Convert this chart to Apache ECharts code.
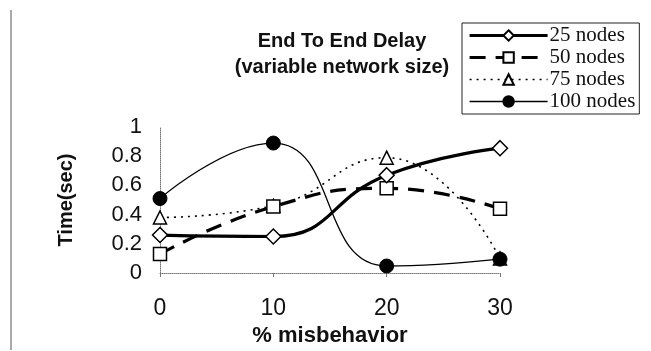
<!DOCTYPE html>
<html>
<head>
<meta charset="utf-8">
<script src="https://cdn.jsdelivr.net/npm/echarts@6/dist/echarts.min.js"></script>
<style>html,body{margin:0;padding:0;background:#fff}#c{width:651px;height:351px}</style>
</head>
<body>
<div id="c"></div>
<script>
var xValues = [0, 10, 20, 30];
var seriesNames = ['25 nodes', '50 nodes', '75 nodes', '100 nodes'];
var nodes25 = [0.26, 0.25, 0.67, 0.855];
var nodes50 = [0.13, 0.455, 0.58, 0.44];
var nodes75 = [0.38, 0.46, 0.79, 0.10];
var nodes100 = [0.51, 0.89, 0.048, 0.095];
var yTicks = [0, 0.2, 0.4, 0.6, 0.8, 1];
var titleText = 'End To End Delay\n(variable network size)';

function pairs(vals) { return xValues.map(function (x, i) { return [x, vals[i]]; }); }

var lineWidths = [3.2, 3.2, 1.6, 1.3];
var lineTypes = ['solid', [16, 10], [2, 5], 'solid'];

var chart = echarts.init(document.getElementById('c'), null, {renderer: 'canvas'});
var sans = 'Liberation Sans, Arial, sans-serif';
chart.setOption({
  animation: false,
  backgroundColor: '#fff',
  title: {
    text: titleText,
    left: 337, top: 23, textAlign: 'center',
    textStyle: {fontFamily: sans, fontWeight: 'bold', fontSize: 20, color: '#111', lineHeight: 26}
  },
  legend: {
    orient: 'vertical', left: 462, top: 23,
    data: seriesNames.map(function (n, i) {
      return {name: n, lineStyle: {width: lineWidths[i], type: lineTypes[i], color: '#000'}};
    }),
    itemWidth: 78, itemHeight: 13, itemGap: 1,
    padding: [2, 4, 2, 6],
    borderColor: '#222', borderWidth: 1,
    textStyle: {fontFamily: 'Liberation Serif, Times New Roman, serif', fontSize: 21, lineHeight: 20, color: '#111', padding: [0, 0, 0, -3]}
  },
  grid: {left: 160, right: 151, top: 127, bottom: 78},
  xAxis: {
    type: 'value', min: 0, max: 30, interval: 10,
    name: '% misbehavior', nameLocation: 'middle', nameGap: 52,
    nameTextStyle: {fontFamily: sans, fontWeight: 'bold', fontSize: 22, color: '#111'},
    axisLine: {lineStyle: {color: '#777', type: 'dotted', width: 1}},
    axisTick: {show: true, length: 4, lineStyle: {color: '#777'}},
    axisLabel: {fontFamily: sans, fontSize: 23, color: '#111', margin: 24},
    splitLine: {show: false}
  },
  yAxis: {
    type: 'value', min: 0, max: 1, interval: 0.2,
    name: 'Time(sec)', nameLocation: 'middle', nameGap: 84, nameRotate: 90,
    nameTextStyle: {fontFamily: sans, fontWeight: 'bold', fontSize: 20, color: '#111'},
    axisLine: {show: true, lineStyle: {color: '#777', type: 'dotted', width: 1}},
    axisTick: {show: false},
    axisLabel: {fontFamily: sans, fontSize: 22, color: '#111', margin: 18},
    splitLine: {show: false}
  },
  graphic: [
    {type: 'line', shape: {x1: 11, y1: 10, x2: 11, y2: 350}, style: {stroke: '#555', lineWidth: 1}}
  ],
  series: [
    {name: seriesNames[0], type: 'line', smooth: true, data: pairs(nodes25),
     symbol: 'diamond', symbolSize: 15,
     lineStyle: {color: '#000', width: lineWidths[0], type: lineTypes[0]},
     itemStyle: {color: '#fff', borderColor: '#000', borderWidth: 1.5}, z: 4},
    {name: seriesNames[1], type: 'line', smooth: true, data: pairs(nodes50),
     symbol: 'rect', symbolSize: 13,
     lineStyle: {color: '#000', width: lineWidths[1], type: lineTypes[1]},
     itemStyle: {color: '#fff', borderColor: '#000', borderWidth: 1.5}, z: 3},
    {name: seriesNames[2], type: 'line', smooth: true, data: pairs(nodes75),
     symbol: 'triangle', symbolSize: 13,
     lineStyle: {color: '#000', width: lineWidths[2], type: lineTypes[2]},
     itemStyle: {color: '#fff', borderColor: '#000', borderWidth: 1.5}, z: 2},
    {name: seriesNames[3], type: 'line', smooth: true, data: pairs(nodes100),
     symbol: 'circle', symbolSize: 14,
     lineStyle: {color: '#000', width: lineWidths[3], type: lineTypes[3]},
     itemStyle: {color: '#000', borderColor: '#000', borderWidth: 1}, z: 5}
  ]
});
</script>
</body>
</html>
